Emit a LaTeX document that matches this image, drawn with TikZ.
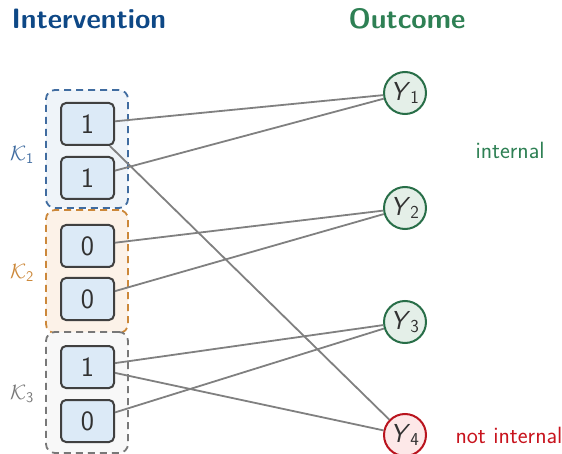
\documentclass[tikz,border=0pt]{standalone}
\usepackage{fontspec}
\renewcommand{\familydefault}{\sfdefault}
\definecolor{titleblue}{RGB}{14,72,134}
\definecolor{titlegreen}{RGB}{46,128,84}
\definecolor{kone}{RGB}{64,108,160}
\definecolor{konefill}{RGB}{239,244,249}
\definecolor{ktwo}{RGB}{204,136,58}
\definecolor{ktwofill}{RGB}{252,242,232}
\definecolor{kthree}{RGB}{120,120,120}
\definecolor{kthreefill}{RGB}{248,248,248}
\definecolor{boxfill}{RGB}{220,234,247}
\definecolor{boxline}{RGB}{64,64,64}
\definecolor{txt}{RGB}{50,50,50}
\definecolor{okline}{RGB}{40,110,72}
\definecolor{okfill}{RGB}{228,239,232}
\definecolor{badline}{RGB}{185,20,30}
\definecolor{badfill}{RGB}{253,232,232}
\definecolor{badtext}{RGB}{200,20,30}
\definecolor{edge}{RGB}{128,128,128}
\begin{document}
\begin{tikzpicture}[x=1pt,y=-1pt,
  grp/.style={line width=1.8pt,rounded corners=9pt,dash pattern=on 7pt off 5pt,
    minimum width=82pt,inner sep=0pt},
  bit/.style={draw=boxline,fill=boxfill,line width=2pt,rounded corners=5pt,
    minimum width=53pt,minimum height=42pt,inner sep=0pt,
    font=\sffamily\fontsize{28}{28}\selectfont,text=txt},
  outc/.style={circle,line width=2pt,minimum size=42pt,inner sep=0pt,
    font=\sffamily\fontsize{26}{26}\selectfont,text=txt},
  okout/.style={outc,draw=okline,fill=okfill},
  badout/.style={outc,draw=badline,fill=badfill},
  klabel/.style={font=\sffamily\fontsize{21}{21}\selectfont},
  heading/.style={anchor=base west,font=\sffamily\bfseries\fontsize{28}{28}\selectfont},
  note/.style={anchor=base west,font=\sffamily\fontsize{23.5}{23.5}\selectfont},
  link/.style={draw=edge,line width=1.8pt}]
\useasboundingbox (0,0) rectangle (562,454);

% headings
\node[heading,text=titleblue] (hint) at (8,29) {Intervention};
\node[heading,text=titlegreen] (hout) at (345,29) {Outcome};

% intervention groups
\node[grp,draw=kone,fill=konefill,minimum height=118pt] (g1) at (87,149) {};
\node[grp,draw=ktwo,fill=ktwofill,minimum height=123pt] (g2) at (87,271.5) {};
\node[grp,draw=kthree,fill=kthreefill,minimum height=121pt] (g3) at (87,392.5) {};

\node[klabel,text=kone] (l1) at (22,155) {$\mathcal{K}_{\mathsf{1}}$};
\node[klabel,text=ktwo] (l2) at (22,273) {$\mathcal{K}_{\mathsf{2}}$};
\node[klabel,text=kthree] (l3) at (22,394) {$\mathcal{K}_{\mathsf{3}}$};

% intervention values
\node[bit] (b1) at (87.5,124) {1};
\node[bit] (b2) at (87.5,178) {1};
\node[bit] (b3) at (87.5,246) {0};
\node[bit] (b4) at (87.5,299) {0};
\node[bit] (b5) at (87.5,367) {1};
\node[bit] (b6) at (87.5,421) {0};

% outcomes
\node[okout] (y1) at (405,93) {\textit{Y}$_{\mathsf{1}}$};
\node[okout] (y2) at (405,208) {\textit{Y}$_{\mathsf{2}}$};
\node[okout] (y3) at (405,322) {\textit{Y}$_{\mathsf{3}}$};
\node[badout] (y4) at (405,435) {\textit{Y}$_{\mathsf{4}}$};

\node[note,text=titlegreen] (nint) at (472,159) {internal};
\node[note,text=badtext] (nnot) at (452,443) {not internal};

% links
\draw[link] (b1) -- (y1);
\draw[link] (b2) -- (y1);
\draw[link] (b1) -- (y4);
\draw[link] (b3) -- (y2);
\draw[link] (b4) -- (y2);
\draw[link] (b5) -- (y3);
\draw[link] (b6) -- (y3);
\draw[link] (b5) -- (y4);
\end{tikzpicture}
\end{document}
